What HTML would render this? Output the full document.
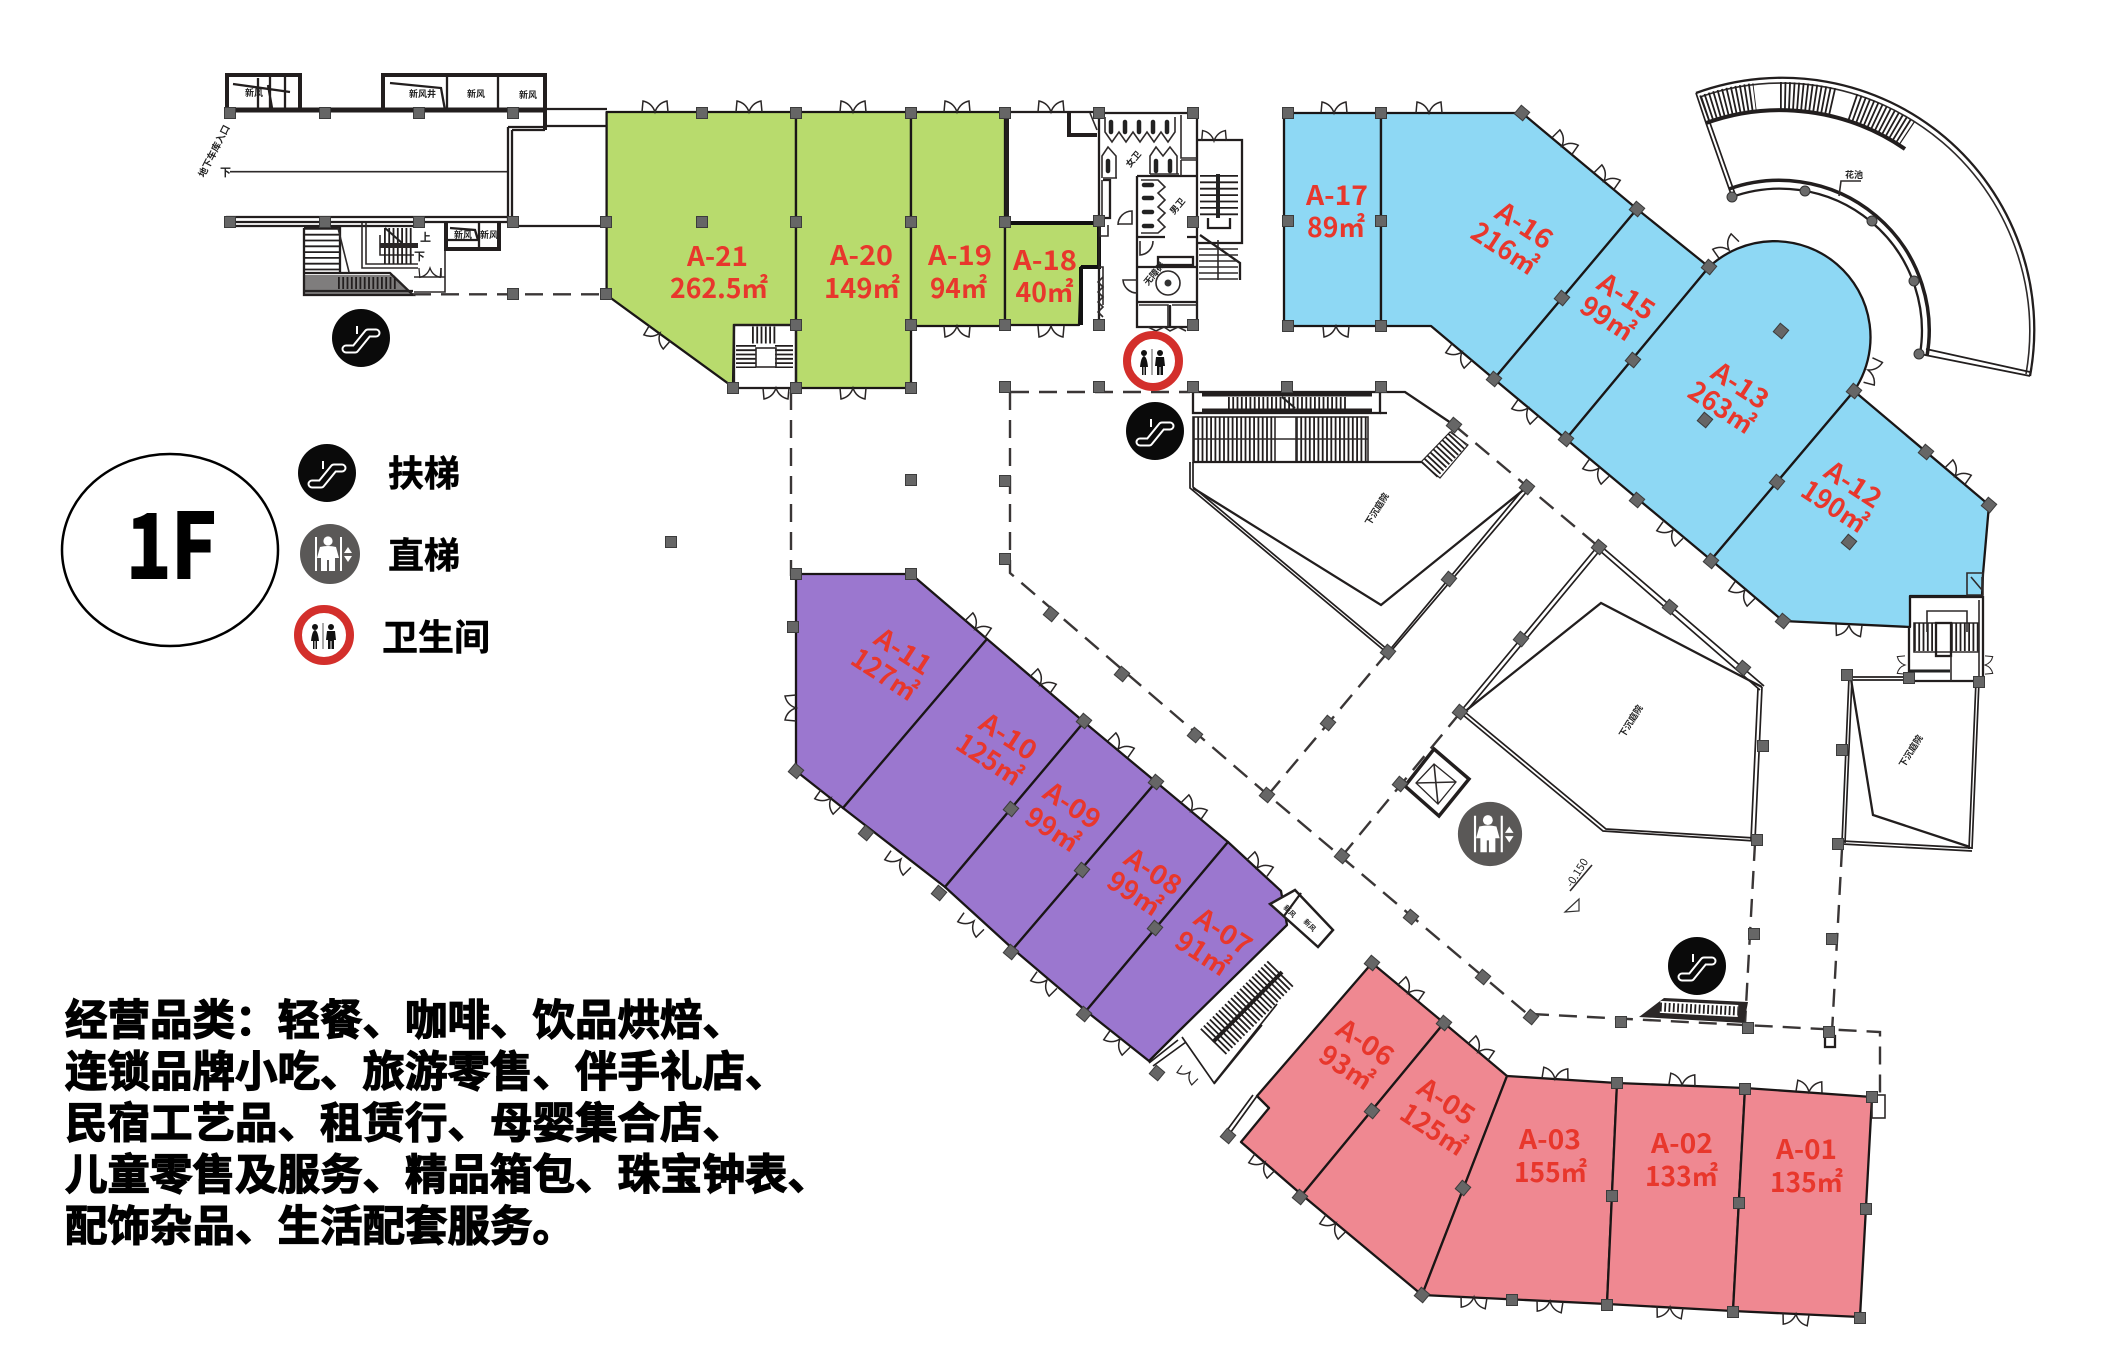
<!DOCTYPE html>
<html><head><meta charset="utf-8"><style>
html,body{margin:0;padding:0;background:#fff}
svg{display:block}
.l{font-family:"Noto Sans CJK SC","Liberation Sans",sans-serif;font-weight:700;font-size:27px;fill:#e8372c}
.k{font-family:"Noto Sans CJK SC","Liberation Sans",sans-serif;font-weight:700;fill:#000}
.t{font-family:"Noto Sans CJK SC","Liberation Sans",sans-serif;font-weight:700;font-size:9px;fill:#222}
.b{font-family:"Noto Sans CJK SC","Liberation Sans",sans-serif;font-weight:700;font-size:42.5px;fill:#000;stroke:#000;stroke-width:1.3px}
.w{fill:none;stroke:#221e1e;stroke-width:2.3}
.w3{fill:none;stroke:#221e1e;stroke-width:4}
.n{fill:none;stroke:#2e2a2a;stroke-width:1.6}
.da{fill:none;stroke:#3a3636;stroke-width:2.4;stroke-dasharray:18 10}
.h{fill:none;stroke:#221e1e;stroke-dasharray:1.8 2.5}
</style></head><body>
<svg xmlns="http://www.w3.org/2000/svg" width="2114" height="1357" viewBox="0 0 2114 1357">
<defs>
<rect id="c" x="-5.5" y="-5.5" width="11" height="11" fill="#666" stroke="#3c3c3c" stroke-width="1"/>
<rect id="e" x="-5.5" y="-5.5" width="11" height="11" fill="#666" stroke="#3c3c3c" stroke-width="1" transform="rotate(40)"/>
<path id="d" d="M-13 0L-12-11Q-3-9 0 0Q3-9 12-11L13 0" fill="none" stroke="#2a2626" stroke-width="1.5"/>
<g id="esc"><circle r="29" fill="#0a0a0a"/><path d="M-15 11H-6L7-5H15" fill="none" stroke="#fff" stroke-width="9" stroke-linecap="round" stroke-linejoin="round"/><path d="M-15 11H-6L7-5H15" fill="none" stroke="#0a0a0a" stroke-width="5" stroke-linecap="round" stroke-linejoin="round"/><path d="M-4-12V-4" stroke="#fff" stroke-width="2"/></g>
<g id="lift"><circle r="30" fill="#5a5857"/><path d="M-14-17V17M11-17V17" stroke="#fff" stroke-width="2"/><circle cx="-2" cy="-13" r="4.6" fill="#fff"/><path d="M-10-7Q-2-9 6-7L9 4H5V17H-1V6H-3V17H-9V4H-13Z" fill="#fff"/><path d="M18-7L22-1H14ZM18 8L22 2H14Z" fill="#fff"/></g>
<g id="wc"><circle r="26" fill="#fff" stroke="#d32f2b" stroke-width="8"/><circle cx="-9" cy="-8" r="3" fill="#111"/><path d="M-9-5Q-6-4-5 6H-7V14H-8.5V6H-9.5V14H-11V6H-13Q-12-4-9-5Z" fill="#111"/><path d="M-1-12V14" stroke="#555" stroke-width="1"/><circle cx="7" cy="-8" r="3" fill="#111"/><path d="M3-4H11L12 5H10V14H7.5V6H6.5V14H4V5H2Z" fill="#111"/></g>
</defs>

<!-- coloured units -->
<g stroke="#1a1616" stroke-width="2.3" stroke-linejoin="round">
<g fill="#b8db6d">
<polygon points="606.6,112 796,112 796,325 734,325 733,387 606.6,295"/>
<polygon points="796,112 911,112 911,388 796,388"/>
<polygon points="911,112 1005,112 1005,326 911,326"/>
<polygon points="1005,223 1099,223 1099,267 1081,267 1079,325 1005,325"/>
</g>
<g fill="#8ed8f4">
<polygon points="1284,113 1381,113 1381,326 1284,326"/>
<polygon points="1381,113 1522,113 1637,209 1494,379 1431,326 1381,326"/>
<polygon points="1637,209 1709,267 1566,439 1494,379"/>
<path d="M1709,267 A96,96 0 0 1 1854,391 L1711,560 L1566,439Z"/>
<polygon points="1854,391 1989,505 1983,574 1982,596 1910,596 1910,627 1783,621 1711,560"/>
</g>
<g fill="#9b77cf">
<polygon points="796,574 911,574 987,639 843,808 796,771"/>
<polygon points="987,639 1084,722 945,887 843,808"/>
<polygon points="1084,722 1156,782 1013,949 945,887"/>
<polygon points="1156,782 1228,842 1086,1011 1013,949"/>
<polygon points="1228,842 1281,891 1287,925 1178,1032 1149,1061 1086,1011"/>
</g>
<g fill="#ef8891">
<polygon points="1372,963 1444,1023 1302,1195 1241,1142 1269,1108 1257,1096"/>
<polygon points="1444,1023 1507,1076 1422,1295 1302,1195"/>
<polygon points="1507,1076 1617,1083 1607,1304 1422,1295"/>
<polygon points="1617,1083 1745,1088 1733,1311 1607,1304"/>
<polygon points="1745,1088 1872,1097 1860,1317 1733,1311"/>
</g>
</g>
<path d="M1005 112H1099" class="w"/>
<path d="M1007 113V223H1099" class="w3"/>
<path d="M1005 223H1099M1081 267H1099V223M1081 267V325" stroke="#111" stroke-width="4" fill="none"/>
<path d="M1069 113V135H1097" class="w3"/>
<path d="M1090 113L1097 130" class="n"/>

<!-- upper left entrance -->
<g>
<path d="M226 110H545" stroke="#221e1e" stroke-width="5" fill="none"/>
<path d="M545 109H607" class="w"/>
<path d="M226 217H508M226 222H508M226 226H419" class="w"/>
<path d="M230 171.7H508" class="n"/>
<path d="M508 127V222M512 130V222M508 127H545M545 110V127M512 130H545M545 126H607M513 226H607" class="w"/>
<path d="M227 110V75H300V110" class="w3"/>
<path d="M270 75V110M285 75V110M290 92L233 84M268 85L272 108M258 78V110" class="w"/>
<path d="M383 110V75H545V130" class="w3"/>
<path d="M447 75V110M498 75V110M390 83L441 88L445 110" class="w"/>
<path d="M362 223V268H418M366 223V264H418M445 222V292H414M441 268V277M380 235V255H414M414 277H445" class="n"/>
<path d="M304 228H340V272M304 228V295H413L390 273H304M304 291H413" class="w"/>
<line x1="322" y1="228" x2="322" y2="272" class="h" stroke-width="34" style="stroke-dasharray:1.8 4"/>
<path d="M338 228L349 272" class="n"/>
<path d="M304 275H394L413 294H304" fill="#2a2626" opacity=".6"/>
<line x1="338" y1="283" x2="396" y2="283" class="h" stroke-width="12"/>
<line x1="384" y1="246" x2="414" y2="246" class="h" stroke-width="36"/>
<path d="M380 243H418V248H380Z" fill="#2a2626"/>
<path d="M385 228L402 243" stroke="#222" stroke-width="2"/>
<use href="#d" transform="translate(430,268) scale(.85) rotate(180)"/>
<path d="M446 222V249H499V222" class="w3"/>
<path d="M479 222V249M446 240H479M450 228L475 230L478 240" class="w"/>
<text class="t" x="245" y="96">新风</text><text class="t" x="409" y="97">新风井</text><text class="t" x="467" y="97">新风</text><text class="t" x="519" y="98">新风</text>
<text class="t" x="454" y="238">新风</text><text class="t" x="480" y="238">新风</text>
<text class="t" x="420" y="241" style="font-size:11px">上</text><text class="t" x="414" y="260" style="font-size:11px">下</text>
<text class="t" x="220" y="176" style="font-size:11px">下</text>
<text class="t" transform="translate(204,178) rotate(-63)" style="font-size:9.5px">地下车库入口</text>
<path d="M413 294.3H606" class="da"/>
<path d="M791 392V576" class="da"/>
</g>

<!-- stairs in notch -->
<g>
<path d="M734 325H796V388H734Z" class="w"/>
<line x1="752" y1="335" x2="776" y2="335" class="h" stroke-width="17"/>
<line x1="746" y1="345" x2="746" y2="368" class="h" stroke-width="20"/>
<line x1="784" y1="345" x2="784" y2="368" class="h" stroke-width="18"/>
<rect x="756" y="348" width="20" height="19" class="n"/>
</g>

<!-- washrooms -->
<g>
<path d="M1099 113H1197V327M1099 113V325M1137 176V327H1197M1137 176H1197M1137 237H1165M1137 267H1197M1137 302H1197M1170 305V327M1187 237H1197" class="w"/>
<path d="M1181 115V158H1197M1181 160V176M1181 160H1197M1103 178H1117M1150 174H1179M1102 180V218H1110V180" class="n"/>
<path d="M1105 117V132L1112 142L1119 132L1126 142L1133 132L1140 142L1147 132L1154 142L1161 132L1168 142L1175 132V117" class="n"/>
<path d="M1111 122v10M1125 122v10M1139 122v10M1153 122v10M1167 122v10" stroke="#222" stroke-width="4.5" stroke-linecap="round"/>
<path d="M1102 178V156L1108 147L1116 156V178M1150 174V156L1156 147L1163 156L1170 147L1177 156V174" class="n"/>
<path d="M1108 161v10M1156 161v10M1170 161v10" stroke="#222" stroke-width="4.5" stroke-linecap="round"/>
<path d="M1141 180H1158L1165 187L1158 193L1165 200L1158 207L1165 213L1158 220L1165 227L1158 233H1141" class="n"/>
<path d="M1144 185h8M1144 198h8M1144 212h8M1144 226h8" stroke="#222" stroke-width="4.5" stroke-linecap="round"/>
<path d="M1118 225A14 14 0 0 1 1132 211V224H1118M1140 241V255A14 14 0 0 0 1153 241M1123 280A14 14 0 0 0 1137 293V280Z" class="n"/>
<rect x="1158" y="257" width="35" height="8" class="w"/>
<circle cx="1168" cy="283" r="12" class="n"/><circle cx="1168" cy="283" r="3.5" fill="#333"/>
<path d="M1139 305H1168V327M1172 305H1197" class="n"/>
<path d="M1103 180H1110V218H1103" class="w"/>
<path d="M1148 327L1156 331L1164 327L1170 331L1178 327L1186 331" class="n"/>
<path d="M1197 140H1242V243H1198" class="w"/>
<line x1="1219" y1="175" x2="1219" y2="217" class="h" stroke-width="38" style="stroke-dasharray:1.8 4.6"/>
<path d="M1218 174V218" stroke="#222" stroke-width="4"/>
<path d="M1208 218V228H1230V218" class="w"/>
<use href="#d" transform="translate(1214,141) scale(.95)"/>
<path d="M1200 235L1240 263V280" class="w"/>
<path d="M1199 249H1238M1199 255H1238M1199 261H1238M1199 267H1238M1199 273H1238M1199 279H1238M1218 240V280" class="n"/>
<path d="M1099 267H1103V305M1100 225V236H1108V225" class="n"/>
<path d="M1100 277l-5 5 5 5-5 5 5 5-5 5 5 5-5 5 5 5" class="n" transform="translate(3,0)"/>
<text class="t" transform="translate(1130,168) rotate(-50)">女卫</text>
<text class="t" transform="translate(1174,215) rotate(-50)">男卫</text>
<text class="t" transform="translate(1148,286) rotate(-50)">无障碍</text>
</g>

<!-- central plan -->
<g>
<path d="M1011 392H1190" class="da"/>
<path d="M1010 392V573L1268 795L1531 1017" class="da"/>
<path d="M1531 1014L1880 1032V1095" class="da"/>
<path d="M1388 652L1268 795" class="da"/>
<path d="M1460 713L1342 856" class="da"/>
<path d="M1454 425L1599 547" class="da"/>
<path d="M1755 843L1745 1024" class="da"/>
<path d="M1842 849L1832 1032" class="da"/>

<rect x="1193" y="392" width="187" height="21" class="w"/>
<path d="M1202 394H1372M1202 411H1372" stroke="#221e1e" stroke-width="5"/>
<line x1="1228" y1="403" x2="1346" y2="403" class="h" stroke-width="12"/>
<path d="M1282 397L1295 408" stroke="#222" stroke-width="2"/>
<path d="M1380 392H1405L1454 425M1380 413H1387" class="w"/>
<rect x="1193" y="417" width="175" height="45" class="n"/>
<line x1="1193" y1="439.5" x2="1275" y2="439.5" class="h" stroke-width="45"/>
<line x1="1296" y1="439.5" x2="1368" y2="439.5" class="h" stroke-width="45"/>
<path d="M1193 439H1368M1275 417V462M1296 417V462" class="n"/>
<path d="M1193 462H1421" class="w"/>
<polygon points="1421,462 1450,432 1468,445 1440,478" fill="#fff" stroke="#2a2626" stroke-width="1.2"/>
<line x1="1429" y1="470" x2="1459" y2="438" class="h" stroke-width="22"/>

<path d="M1190 462V488L1386 652M1193 462V487L1388 650" class="w" style="stroke-width:1.7"/>
<path d="M1193 488L1381 605L1527 487" class="w"/>
<path d="M1388 652L1525 487M1392 650L1529 489" class="w" style="stroke-width:1.7"/>
<text class="t" transform="translate(1370,526) rotate(-58)">下沉庭院</text>

<path d="M1460 712L1597 547M1464 714L1601 549" class="w" style="stroke-width:1.7"/>
<path d="M1463 713L1601 603L1762 687" class="w"/>
<path d="M1599 550L1760 690M1602 547L1764 686" class="w" style="stroke-width:1.7"/>
<path d="M1762 687L1755 840M1758 688L1751 840" class="w" style="stroke-width:1.7"/>
<path d="M1755 841L1603 831L1463 715M1755 838L1606 829L1466 713" class="w" style="stroke-width:1.7"/>
<text class="t" transform="translate(1624,738) rotate(-58)">下沉庭院</text>

<path d="M1849 677L1842 843M1852 677L1845 843" class="w" style="stroke-width:1.7"/>
<path d="M1842 841L1972 848M1842 844L1972 851" class="w" style="stroke-width:1.7"/>
<path d="M1979 681L1972 849M1976 681L1969 849" class="w" style="stroke-width:1.7"/>
<path d="M1851 679L1873 815L1970 847" class="w"/>
<path d="M1849 677H1907M1849 680H1907" class="w" style="stroke-width:1.7"/>
<text class="t" transform="translate(1904,768) rotate(-58)">下沉庭院</text>

<!-- stair box right -->
<path d="M1910 597H1983V681H1909V627" class="w"/>
<path d="M1914 623H1978V652H1914Z" class="n"/>
<line x1="1951" y1="637" x2="1978" y2="637" class="h" stroke-width="28"/>
<line x1="1914" y1="637" x2="1936" y2="637" class="h" stroke-width="28"/>
<rect x="1936" y="623" width="15" height="33" fill="#fff" class="w"/>
<path d="M1927 632V611H1967V632M1951 656V681M1979 600V680" class="n"/>
<path d="M1910 671H1950" stroke="#222" stroke-width="3"/>
<use href="#d" transform="translate(1905,665) rotate(-90) scale(.7)"/>
<use href="#d" transform="translate(1985,665) rotate(90) scale(.7)"/>
<path d="M1967 573H1983V595H1967Z" class="n"/><path d="M1971 577L1982 590V577" class="n"/>

<!-- elevator -->
<polygon points="1434,749 1469,779 1439,816 1405,786" fill="#fff" stroke="#221e1e" stroke-width="3.5"/>
<polygon points="1434,764 1456,782 1438,804 1416,783" fill="#fff" stroke="#2a2626" stroke-width="1.3"/>
<path d="M1434,764L1438,804M1456,782L1416,783" class="n"/>

<path d="M1570 891L1592 865" class="n"/>
<polygon points="1565,912 1579,899 1579,911" fill="#fff" stroke="#333" stroke-width="1.2"/>
<text class="t" transform="translate(1572,888) rotate(-58)" style="font-weight:400;font-size:11px">-0.150</text>

<!-- small escalator -->
<polygon points="1664,998 1748,1002 1744,1023 1639,1017" fill="#2a2626"/>
<rect x="1660" y="1003" width="78" height="12" fill="#fff" transform="rotate(3 1700 1010)"/>
<line x1="1660" y1="1007" x2="1738" y2="1011" class="h" stroke-width="9"/>

<rect x="1825" y="1036" width="10" height="11" class="w"/>
<rect x="1872" y="1095" width="13" height="23" class="n"/>
</g>

<!-- fan-shaped terrace -->
<g>
<path d="M1696 93A252 252 0 0 1 2030 376" class="w"/>
<path d="M1700 97A248 248 0 0 1 2026 374" class="n"/>
<path d="M1732 197A142 142 0 0 1 1920 354" class="w"/>
<path d="M1729 189A150 150 0 0 1 1927 356" class="w" style="stroke-width:3.5"/>
<path d="M1706 123A220 220 0 0 1 1905 149" class="w3"/>
<path d="M1696 93L1706 123L1732 197M1701 96L1710 123L1735 194" class="w" style="stroke-width:1.7"/>
<path d="M1920 354L2030 376M1926 349L2030 372" class="w" style="stroke-width:1.7"/>
<path d="M1704 109A234 234 0 0 1 1755 97" class="h" stroke-width="28"/>
<path d="M1780 96A234 234 0 0 1 1833 102" class="h" stroke-width="28"/>
<path d="M1852 107A234 234 0 0 1 1907 134" class="h" stroke-width="28"/>
<path d="M1839 196L1841 181H1861" class="n"/>
<text class="t" x="1845" y="178">花池</text>
<g fill="#6a6a6a" stroke="#333"><circle cx="1732" cy="197" r="5"/><circle cx="1805" cy="191" r="5"/><circle cx="1872" cy="221" r="5"/><circle cx="1914" cy="281" r="5"/><circle cx="1919" cy="354" r="5"/></g>
</g>

<!-- A-07 stairs and mech rooms -->
<g>
<line x1="1213" y1="1042" x2="1282" y2="972" class="h" stroke-width="36"/>
<line x1="1213" y1="1042" x2="1282" y2="972" stroke="#221e1e" stroke-width="4"/>
<path d="M1182 1037L1214 1083L1277 1004M1178 1040L1149 1063M1186 1042L1153 1066M1214 1084L1262 1025" class="w" style="stroke-width:1.7"/>
<use href="#d" transform="translate(1190,1072) rotate(220) scale(.8)"/>
<polygon points="1270,904 1295,890 1333,930 1318,947" fill="#fff" stroke="#221e1e" stroke-width="2.5"/>
<path d="M1301 893L1284 916" class="w"/>
<text class="t" transform="translate(1283,908) rotate(45)" style="font-size:7px">新风</text>
<text class="t" transform="translate(1303,922) rotate(45)" style="font-size:7px">新风</text>
<path d="M1257 1096L1228 1136M1253 1095L1225 1133" class="w" style="stroke-width:1.7"/>
</g>

<!-- doors -->
<g>
<use href="#d" transform="translate(655,112)"/><use href="#d" transform="translate(749,112)"/><use href="#d" transform="translate(853,112)"/><use href="#d" transform="translate(957,112)"/><use href="#d" transform="translate(1051,112)"/>
<use href="#d" transform="translate(957,326) rotate(180)"/><use href="#d" transform="translate(1051,326) rotate(180)"/><use href="#d" transform="translate(853,388) rotate(180)"/><use href="#d" transform="translate(776,388) rotate(180)"/>
<use href="#d" transform="translate(660,333) rotate(216)"/>
<use href="#d" transform="translate(1334,113)"/><use href="#d" transform="translate(1429,113)"/><use href="#d" transform="translate(1336,326) rotate(180)"/>
<use href="#d" transform="translate(1562,146) rotate(40)"/><use href="#d" transform="translate(1604,181) rotate(40)"/>
<use href="#d" transform="translate(1462,352) rotate(220)"/><use href="#d" transform="translate(1528,408) rotate(220)"/><use href="#d" transform="translate(1599,468) rotate(220)"/><use href="#d" transform="translate(1673,530) rotate(220)"/>
<use href="#d" transform="translate(1729,250) rotate(-40)"/><use href="#d" transform="translate(1868,370) rotate(110)"/>
<use href="#d" transform="translate(1955,476) rotate(40)"/><use href="#d" transform="translate(1849,625) rotate(183)"/><use href="#d" transform="translate(1745,590) rotate(220)"/>
<use href="#d" transform="translate(975,629) rotate(40)"/><use href="#d" transform="translate(1040,685) rotate(40)"/><use href="#d" transform="translate(1118,749) rotate(40)"/><use href="#d" transform="translate(1191,811) rotate(40)"/><use href="#d" transform="translate(1257,868) rotate(40)"/>
<use href="#d" transform="translate(796,708) rotate(-90)"/>
<use href="#d" transform="translate(831,798) rotate(220)"/><use href="#d" transform="translate(901,859) rotate(220)"/><use href="#d" transform="translate(974,921) rotate(220)"/><use href="#d" transform="translate(1047,980) rotate(220)"/><use href="#d" transform="translate(1120,1039) rotate(220)"/>
<use href="#d" transform="translate(1408,993) rotate(40)"/><use href="#d" transform="translate(1478,1052) rotate(40)"/>
<use href="#d" transform="translate(1555,1079) rotate(4)"/><use href="#d" transform="translate(1682,1085) rotate(4)"/><use href="#d" transform="translate(1809,1092) rotate(4)"/>
<use href="#d" transform="translate(1474,1297) rotate(184)"/><use href="#d" transform="translate(1550,1301) rotate(184)"/><use href="#d" transform="translate(1670,1307) rotate(184)"/><use href="#d" transform="translate(1796,1314) rotate(184)"/>
<use href="#d" transform="translate(1265,1162) rotate(220)"/><use href="#d" transform="translate(1336,1223) rotate(220)"/>
</g>

<!-- columns -->
<g>
<use href="#c" x="230" y="113"/><use href="#c" x="325" y="113"/><use href="#c" x="419" y="113"/><use href="#c" x="513" y="113"/><use href="#c" x="230" y="222"/><use href="#c" x="325" y="222"/><use href="#c" x="419" y="222"/><use href="#c" x="513" y="222"/><use href="#c" x="606" y="222"/><use href="#c" x="513" y="294"/><use href="#c" x="606" y="294"/>
<use href="#c" x="702" y="113"/><use href="#c" x="796" y="113"/><use href="#c" x="911" y="113"/><use href="#c" x="1005" y="113"/><use href="#c" x="1099" y="113"/><use href="#c" x="1193" y="113"/>
<use href="#c" x="702" y="222"/><use href="#c" x="796" y="222"/><use href="#c" x="911" y="222"/><use href="#c" x="1005" y="222"/><use href="#c" x="1099" y="221"/><use href="#c" x="1193" y="222"/>
<use href="#c" x="733" y="388"/><use href="#c" x="796" y="388"/><use href="#c" x="911" y="388"/><use href="#c" x="796" y="325"/><use href="#c" x="911" y="325"/><use href="#c" x="1005" y="325"/><use href="#c" x="1099" y="325"/><use href="#c" x="1193" y="325"/>
<use href="#c" x="1005" y="387"/><use href="#c" x="1099" y="387"/><use href="#c" x="1193" y="387"/><use href="#c" x="1287" y="387"/><use href="#c" x="1381" y="387"/><use href="#c" x="1005" y="481"/><use href="#c" x="1005" y="559"/><use href="#c" x="911" y="480"/><use href="#c" x="671" y="542"/>
<use href="#c" x="1288" y="113"/><use href="#c" x="1381" y="113"/><use href="#e" x="1522" y="113"/><use href="#e" x="1637" y="209"/><use href="#e" x="1709" y="267"/><use href="#e" x="1494" y="379"/><use href="#e" x="1566" y="439"/><use href="#c" x="1288" y="326"/><use href="#c" x="1381" y="326"/><use href="#c" x="1288" y="221"/><use href="#c" x="1381" y="221"/><use href="#e" x="1562" y="298"/><use href="#e" x="1633" y="360"/><use href="#e" x="1781" y="331"/><use href="#e" x="1705" y="420"/><use href="#e" x="1637" y="500"/><use href="#e" x="1711" y="561"/><use href="#e" x="1854" y="391"/><use href="#e" x="1777" y="482"/><use href="#e" x="1849" y="542"/><use href="#e" x="1926" y="452"/><use href="#e" x="1989" y="505"/><use href="#e" x="1783" y="621"/>
<use href="#c" x="796" y="574"/><use href="#c" x="911" y="574"/><use href="#c" x="793" y="627"/><use href="#e" x="796" y="771"/><use href="#e" x="866" y="833"/><use href="#e" x="939" y="893"/><use href="#e" x="1011" y="952"/><use href="#e" x="1084" y="1014"/><use href="#e" x="1157" y="1073"/><use href="#e" x="1011" y="809"/><use href="#e" x="1082" y="870"/><use href="#e" x="1155" y="928"/><use href="#e" x="1084" y="721"/><use href="#e" x="1156" y="782"/>
<use href="#e" x="1372" y="963"/><use href="#e" x="1444" y="1023"/><use href="#e" x="1372" y="1111"/><use href="#e" x="1463" y="1188"/><use href="#e" x="1228" y="1136"/><use href="#e" x="1300" y="1197"/><use href="#e" x="1422" y="1295"/><use href="#c" x="1512" y="1300"/><use href="#c" x="1607" y="1305"/><use href="#c" x="1733" y="1312"/><use href="#c" x="1860" y="1318"/><use href="#c" x="1617" y="1083"/><use href="#c" x="1745" y="1089"/><use href="#c" x="1872" y="1097"/><use href="#c" x="1612" y="1196"/><use href="#c" x="1739" y="1203"/><use href="#c" x="1866" y="1209"/>
<use href="#e" x="1454" y="425"/><use href="#e" x="1527" y="487"/><use href="#e" x="1388" y="652"/><use href="#e" x="1449" y="579"/><use href="#e" x="1328" y="723"/><use href="#e" x="1051" y="614"/><use href="#e" x="1122" y="674"/><use href="#e" x="1195" y="735"/><use href="#e" x="1267" y="795"/><use href="#e" x="1342" y="856"/><use href="#e" x="1411" y="917"/><use href="#e" x="1483" y="977"/><use href="#e" x="1531" y="1017"/>
<use href="#e" x="1599" y="547"/><use href="#e" x="1521" y="639"/><use href="#e" x="1460" y="712"/><use href="#e" x="1400" y="784"/><use href="#e" x="1670" y="607"/><use href="#e" x="1743" y="668"/><use href="#c" x="1763" y="746"/><use href="#c" x="1757" y="840"/><use href="#c" x="1847" y="675"/><use href="#c" x="1842" y="750"/><use href="#c" x="1838" y="844"/><use href="#c" x="1909" y="678"/><use href="#c" x="1979" y="682"/>
<use href="#c" x="1621" y="1022"/><use href="#c" x="1748" y="1028"/><use href="#c" x="1754" y="934"/><use href="#c" x="1832" y="939"/><use href="#c" x="1829" y="1032"/>
</g>

<!-- unit labels -->
<g text-anchor="middle">
<text class="l" x="717.5" y="266" textLength="61" lengthAdjust="spacingAndGlyphs">A-21</text><text class="l" x="719" y="298" textLength="98" lengthAdjust="spacingAndGlyphs">262.5㎡</text>
<text class="l" x="861.5" y="265" textLength="63" lengthAdjust="spacingAndGlyphs">A-20</text><text class="l" x="862" y="298" textLength="76" lengthAdjust="spacingAndGlyphs">149㎡</text>
<text class="l" x="960" y="265" textLength="64" lengthAdjust="spacingAndGlyphs">A-19</text><text class="l" x="958.5" y="298" textLength="57" lengthAdjust="spacingAndGlyphs">94㎡</text>
<text class="l" x="1045" y="270" textLength="64" lengthAdjust="spacingAndGlyphs">A-18</text><text class="l" x="1044.5" y="302" textLength="58" lengthAdjust="spacingAndGlyphs">40㎡</text>
<text class="l" x="1337" y="205" textLength="62" lengthAdjust="spacingAndGlyphs">A-17</text><text class="l" x="1336" y="237" textLength="58" lengthAdjust="spacingAndGlyphs">89㎡</text>
<text class="l" x="1550" y="1149" textLength="62" lengthAdjust="spacingAndGlyphs">A-03</text><text class="l" x="1550.5" y="1182" textLength="73" lengthAdjust="spacingAndGlyphs">155㎡</text>
<text class="l" x="1682" y="1153" textLength="62" lengthAdjust="spacingAndGlyphs">A-02</text><text class="l" x="1681.5" y="1186" textLength="73" lengthAdjust="spacingAndGlyphs">133㎡</text>
<text class="l" x="1806.5" y="1159" textLength="61" lengthAdjust="spacingAndGlyphs">A-01</text><text class="l" x="1806.5" y="1192" textLength="73" lengthAdjust="spacingAndGlyphs">135㎡</text>
<g transform="translate(1524,226) rotate(33)"><text class="l" y="9" textLength="62" lengthAdjust="spacingAndGlyphs">A-16</text></g><g transform="translate(1504,249) rotate(33)"><text class="l" y="9" textLength="72" lengthAdjust="spacingAndGlyphs">216㎡</text></g>
<g transform="translate(1626,297) rotate(33)"><text class="l" y="9" textLength="62" lengthAdjust="spacingAndGlyphs">A-15</text></g><g transform="translate(1607,319) rotate(33)"><text class="l" y="9" textLength="58" lengthAdjust="spacingAndGlyphs">99㎡</text></g>
<g transform="translate(1740,386) rotate(33)"><text class="l" y="9" textLength="62" lengthAdjust="spacingAndGlyphs">A-13</text></g><g transform="translate(1721,408) rotate(33)"><text class="l" y="9" textLength="72" lengthAdjust="spacingAndGlyphs">263㎡</text></g>
<g transform="translate(1853,485) rotate(33)"><text class="l" y="9" textLength="62" lengthAdjust="spacingAndGlyphs">A-12</text></g><g transform="translate(1834,507) rotate(33)"><text class="l" y="9" textLength="72" lengthAdjust="spacingAndGlyphs">190㎡</text></g>
<g transform="translate(903,652) rotate(33)"><text class="l" y="9" textLength="62" lengthAdjust="spacingAndGlyphs">A-11</text></g><g transform="translate(884,675) rotate(33)"><text class="l" y="9" textLength="72" lengthAdjust="spacingAndGlyphs">127㎡</text></g>
<g transform="translate(1008,737) rotate(33)"><text class="l" y="9" textLength="62" lengthAdjust="spacingAndGlyphs">A-10</text></g><g transform="translate(989,760) rotate(33)"><text class="l" y="9" textLength="72" lengthAdjust="spacingAndGlyphs">125㎡</text></g>
<g transform="translate(1072,806) rotate(33)"><text class="l" y="9" textLength="62" lengthAdjust="spacingAndGlyphs">A-09</text></g><g transform="translate(1052,830) rotate(33)"><text class="l" y="9" textLength="58" lengthAdjust="spacingAndGlyphs">99㎡</text></g>
<g transform="translate(1153,872) rotate(33)"><text class="l" y="9" textLength="62" lengthAdjust="spacingAndGlyphs">A-08</text></g><g transform="translate(1134,894) rotate(33)"><text class="l" y="9" textLength="58" lengthAdjust="spacingAndGlyphs">99㎡</text></g>
<g transform="translate(1223,932) rotate(33)"><text class="l" y="9" textLength="62" lengthAdjust="spacingAndGlyphs">A-07</text></g><g transform="translate(1202,954) rotate(33)"><text class="l" y="9" textLength="58" lengthAdjust="spacingAndGlyphs">91㎡</text></g>
<g transform="translate(1365,1043) rotate(33)"><text class="l" y="9" textLength="62" lengthAdjust="spacingAndGlyphs">A-06</text></g><g transform="translate(1346,1068) rotate(33)"><text class="l" y="9" textLength="58" lengthAdjust="spacingAndGlyphs">93㎡</text></g>
<g transform="translate(1446,1102) rotate(33)"><text class="l" y="9" textLength="62" lengthAdjust="spacingAndGlyphs">A-05</text></g><g transform="translate(1433,1130) rotate(33)"><text class="l" y="9" textLength="72" lengthAdjust="spacingAndGlyphs">125㎡</text></g>
</g>

<!-- icons on plan -->
<use href="#esc" transform="translate(361,338)"/>
<use href="#esc" transform="translate(1155,431)"/>
<use href="#esc" transform="translate(1697,966)"/>
<use href="#wc" transform="translate(1153,361)"/>
<use href="#lift" transform="translate(1490,834) scale(1.07)"/>

<!-- legend -->
<ellipse cx="170" cy="550" rx="108" ry="96" fill="#fff" stroke="#000" stroke-width="2.5"/>
<text class="k" x="126" y="578" font-size="89" textLength="90" lengthAdjust="spacingAndGlyphs" stroke="#000" stroke-width="2">1F</text>
<use href="#esc" transform="translate(327,473)"/>
<use href="#lift" transform="translate(330,554)"/>
<use href="#wc" transform="translate(324,635)"/>
<text class="k" x="388" y="486" font-size="36" textLength="72" lengthAdjust="spacingAndGlyphs" stroke="#000" stroke-width=".5">扶梯</text>
<text class="k" x="388" y="568" font-size="36" textLength="72" lengthAdjust="spacingAndGlyphs" stroke="#000" stroke-width=".5">直梯</text>
<text class="k" x="382" y="650" font-size="36" textLength="108" lengthAdjust="spacingAndGlyphs" stroke="#000" stroke-width=".5">卫生间</text>

<!-- description -->
<text class="b" x="65" y="1035">经营品类：轻餐、咖啡、饮品烘焙、</text>
<text class="b" x="65" y="1086.5">连锁品牌小吃、旅游零售、伴手礼店、</text>
<text class="b" x="65" y="1138">民宿工艺品、租赁行、母婴集合店、</text>
<text class="b" x="65" y="1189.5">儿童零售及服务、精品箱包、珠宝钟表、</text>
<text class="b" x="65" y="1241">配饰杂品、生活配套服务。</text>
</svg>
</body></html>
